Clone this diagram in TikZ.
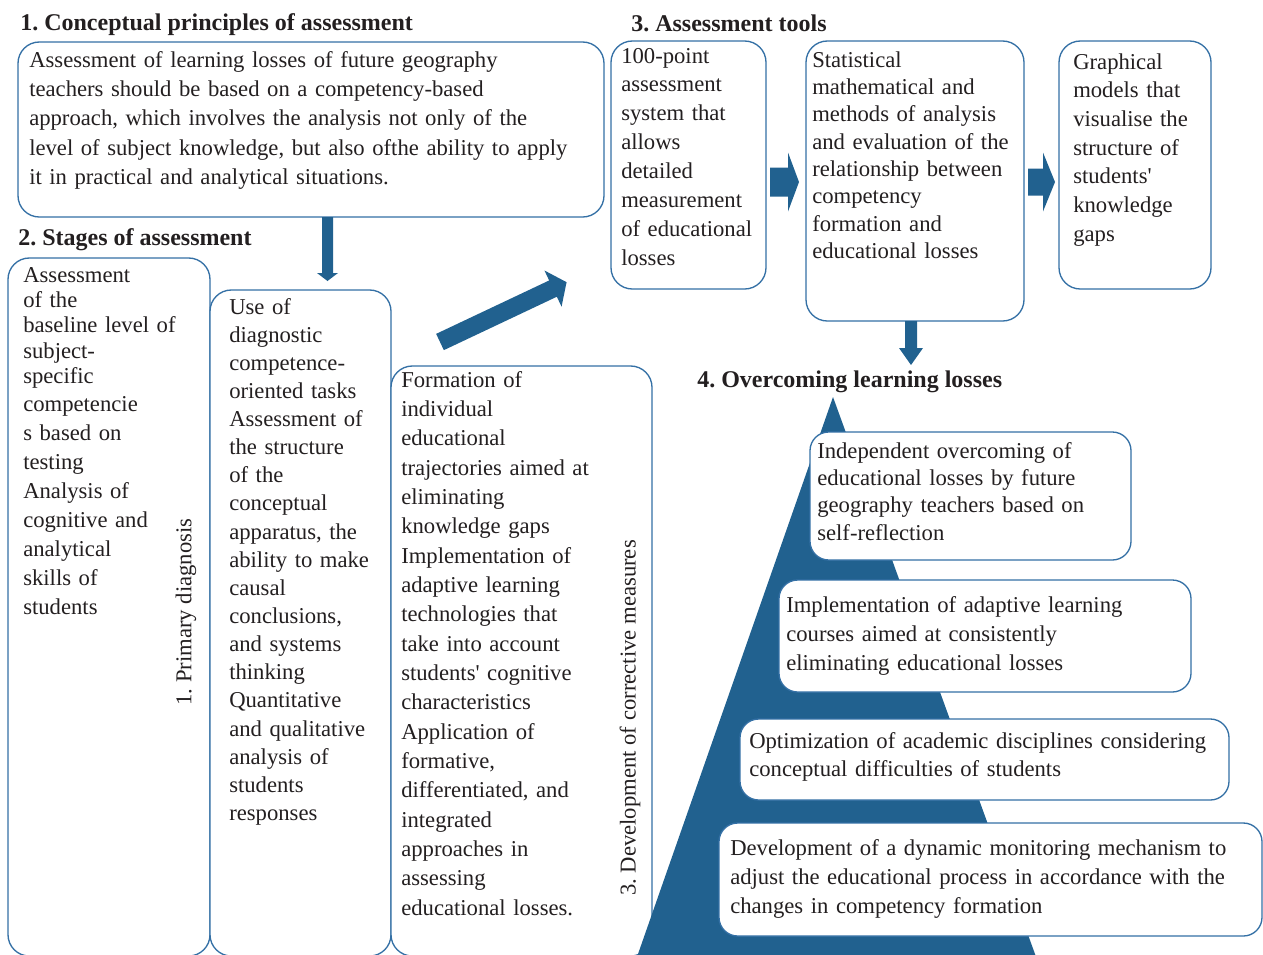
\documentclass[tikz,border=0pt]{standalone}
\usepackage{fontspec}
\setmainfont{Liberation Serif}
\newfontfamily\straightap{Liberation Serif}[Ligatures=TeXOff]
\newcommand{\ap}{{\straightap '}}
\frenchspacing
\usetikzlibrary{fit}
\definecolor{boxline}{RGB}{52,112,165}
\definecolor{dblue}{RGB}{33,97,143}
\definecolor{ink}{RGB}{35,31,32}
\newcommand{\myfs}[1]{\fontsize{17}{#1}\selectfont}
% block arrow: start coordinate, angle, length, shaft half width, head half width, head length
\newcommand{\blockarrow}[6]{%
  \fill[dblue, shift={(#1)}, rotate=#2] (0,-#4) -- ({#3-#6},-#4) -- ({#3-#6},-#5) -- (#3,0) -- ({#3-#6},#5) -- ({#3-#6},#4) -- (0,#4) -- cycle;}
\tikzset{
  box/.style={draw=boxline, line width=1pt, fill=white, rounded corners=16pt, inner sep=0pt},
  pbox/.style={box, rounded corners=14pt},
  txt/.style={anchor=base west, align=left, inner sep=0pt, text=ink, text width=480pt},
  head/.style={anchor=base west, inner sep=0pt, text=ink, font=\bfseries\fontsize{18}{20}\selectfont},
  rot/.style={rotate=90, inner sep=0pt, text=ink, font=\myfs{20}},
}
\begin{document}
\begin{tikzpicture}[x=0.75pt, y=-0.75pt]
\useasboundingbox (0,0) rectangle (1263,954);
% headings
\node[head] (h1) at (20,30) {1. Conceptual principles of assessment};
\node[head] (h2) at (18,245) {2. Stages of assessment};
\node[head] (h3) at (631,31) {3. Assessment tools};
\node[head] (h4) at (697,387) {4. Overcoming learning losses};
% box 1
\node[box, fit={(18,42)(604,217)}] (b1) {};
\node[txt, font=\myfs{22}] (t1) at (29,67) {Assessment of learning losses of future geography\\
teachers should be based on a competency-based\\
approach, which involves the analysis not only of the\\
level of subject knowledge, but also ofthe ability to apply\\
it in practical and analytical situations.};
% assessment tools
\node[box, fit={(611,41)(766,289)}] (tb1) {};
\node[txt, font=\myfs{21.7}] (tt1) at (621,63) {100-point\\ assessment\\ system that\\ allows\\ detailed\\ measurement\\ of educational\\ losses};
\node[box, fit={(806,41)(1024,321)}] (tb2) {};
\node[txt, font=\myfs{20.5}] (tt2) at (812,67) {Statistical\\ mathematical and\\ methods of analysis\\ and evaluation of the\\ relationship between\\ competency\\ formation and\\ educational losses};
\node[box, fit={(1059,41)(1211,289)}] (tb3) {};
\node[txt, font=\myfs{21.5}] (tt3) at (1073,69) {Graphical\\ models that\\ visualise the\\ structure of\\ students\ap\\ knowledge\\ gaps};
% stages
\node[box, fit={(8,258)(210,956)}] (sa) {};
\node[txt, font=\myfs{21.7}] (sta) at (23,282) {Assessment\\[-2.6pt] of the\\[-2.6pt] baseline level of\\[-2.6pt] subject-\\[-2.6pt] specific\\[-0.8pt] competencie\\ s based on\\ testing\\ Analysis of\\ cognitive and\\ analytical\\ skills of\\ students};
\node[rot] (la) at (186,612) {1. Primary diagnosis};
\node[box, fit={(210,290)(391,956)}] (sb) {};
\node[txt, font=\myfs{21.1}] (stb) at (229,314) {Use of\\ diagnostic\\ competence-\\ oriented tasks\\ Assessment of\\ the structure\\ of the\\ conceptual\\ apparatus, the\\ ability to make\\ causal\\ conclusions,\\ and systems\\ thinking\\ Quantitative\\ and qualitative\\ analysis of\\ students\\ responses};
\node[box, fit={(391,366)(652,956)}] (sc) {};
\node[txt, font=\myfs{22}] (stc) at (401,387) {Formation of\\ individual\\ educational\\ trajectories aimed at\\ eliminating\\ knowledge gaps\\ Implementation of\\ adaptive learning\\ technologies that\\ take into account\\ students\ap{} cognitive\\ characteristics\\ Application of\\ formative,\\ differentiated, and\\ integrated\\ approaches in\\ assessing\\ educational losses.};
\node[rot] (lc) at (630,718) {3. Development of corrective measures};
% pyramid
\coordinate (apex) at (833,397);
\fill[dblue] (apex) -- (632.4,970) -- (1040.8,970) -- cycle;
\node[pbox, fit={(810,432)(1131,560)}] (p1) {};
\node[txt, font=\myfs{20.5}] (pt1) at (817,458) {Independent overcoming of\\ educational losses by future\\ geography teachers based on\\ self-reflection};
\node[pbox, fit={(779,580)(1191,692)}] (p2) {};
\node[txt, font=\myfs{21.75}] (pt2) at (786,612) {Implementation of adaptive learning\\ courses aimed at consistently\\ eliminating educational losses};
\node[pbox, fit={(740,719)(1229,800)}] (p3) {};
\node[txt, font=\myfs{21.5}] (pt3) at (749,748) {Optimization of academic disciplines considering\\ conceptual difficulties of students};
\node[pbox, fit={(719,823)(1262,936)}] (p4) {};
\node[txt, font=\myfs{21.75}] (pt4) at (730,855) {Development of a dynamic monitoring mechanism to\\ adjust the educational process in accordance with the\\ changes in competency formation};
% block arrows
\coordinate (a1) at (327.5,217);
\coordinate (a2) at (770,182);
\coordinate (a3) at (1028,182);
\coordinate (a4) at (911,321);
\coordinate (a5) at (440,342);
\blockarrow{a1}{-90}{64}{5.5}{10.5}{8}
\blockarrow{a2}{0}{29}{14.5}{29.5}{11}
\blockarrow{a3}{0}{27}{13.5}{29.5}{12}
\blockarrow{a4}{-90}{44}{6}{12}{17}
\blockarrow{a5}{25.3}{140}{9}{20}{15}
\end{tikzpicture}
\end{document}
